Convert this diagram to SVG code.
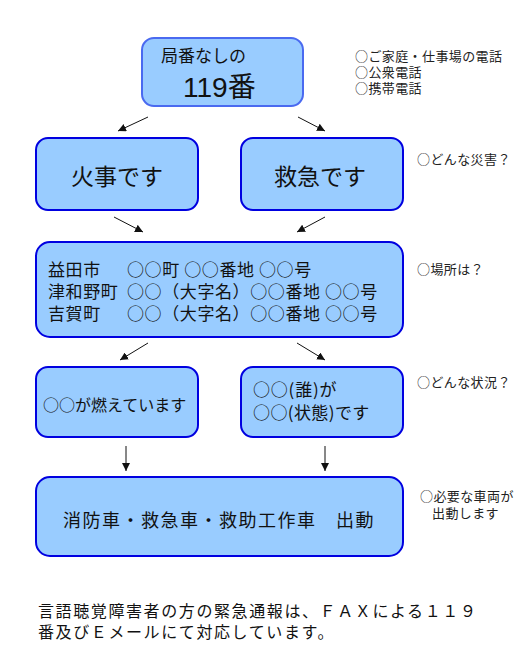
<svg xmlns="http://www.w3.org/2000/svg" width="520" height="658" viewBox="0 0 520 658">
<style>
text{font-family:"Noto Sans CJK JP","Liberation Sans",sans-serif;fill:#111}
.lat{font-family:"Liberation Sans","Noto Sans CJK JP",sans-serif}
.box{fill:#99ccff;stroke:#0000e0;stroke-width:2}
.top{stroke:#4a6af0}
.note{font-size:13px;fill:#222;letter-spacing:0.4px}
.addr{font-size:17px;letter-spacing:0.6px}
.c{stroke:#111;stroke-width:1;fill:none;marker-end:url(#ah)}
</style>
<defs>
<marker id="ah" viewBox="0 0 10 10" refX="10" refY="5" markerWidth="8" markerHeight="8" markerUnits="userSpaceOnUse" orient="auto">
<path d="M0,0L10,5L0,10z" fill="#111"/>
</marker>
</defs>
<rect width="520" height="658" fill="#fff"/>
<g id="n-top">
<rect class="box top" x="142" y="38" width="161" height="68" rx="12"/>
<text x="161" y="62" font-size="17">局番なしの</text>
<text class="lat" x="183" y="97" font-size="28">119番</text>
</g>
<g id="note-top">
<text class="note" x="355" y="61">○ご家庭・仕事場の電話</text>
<text class="note" x="355" y="77">○公衆電話</text>
<text class="note" x="355" y="93">○携帯電話</text>
</g>
<g id="n-fire">
<rect class="box" x="36" y="138" width="162" height="72" rx="12"/>
<text x="117" y="185" font-size="23" text-anchor="middle">火事です</text>
</g>
<g id="n-ambulance">
<rect class="box" x="241" y="138" width="162" height="72" rx="12"/>
<text x="320" y="185" font-size="23" text-anchor="middle">救急です</text>
</g>
<g id="note-disaster"><text class="note" x="417" y="164">○どんな災害？</text></g>
<g id="n-place">
<rect class="box" x="36" y="242" width="367" height="95" rx="14"/>
<text class="addr" x="48" y="276">益田市</text>
<text class="addr" x="48" y="298">津和野町</text>
<text class="addr" x="48" y="320">吉賀町</text>
<text class="addr" x="127" y="276">○○町 ○○番地 ○○号</text>
<text class="addr" x="127" y="298">○○（大字名）○○番地 ○○号</text>
<text class="addr" x="127" y="320">○○（大字名）○○番地 ○○号</text>
</g>
<g id="note-place"><text class="note" x="417" y="274">○場所は？</text></g>
<g id="n-burning">
<rect class="box" x="36" y="367" width="162" height="70" rx="12"/>
<text x="43" y="411" font-size="16">○○が燃えています</text>
</g>
<g id="n-person">
<rect class="box" x="241" y="367" width="162" height="70" rx="12"/>
<text x="253" y="396" font-size="17" letter-spacing="0.8">○○(誰)が</text>
<text x="253" y="419" font-size="17" letter-spacing="0.4">○○(状態)です</text>
</g>
<g id="note-situation"><text class="note" x="417" y="387">○どんな状況？</text></g>
<g id="n-dispatch">
<rect class="box" x="36" y="477" width="367" height="79" rx="14"/>
<text x="63" y="527" font-size="18" letter-spacing="1.5">消防車・救急車・救助工作車　出動</text>
</g>
<g id="note-dispatch">
<text class="note" x="420" y="501">○必要な車両が</text>
<text class="note" x="432" y="518">出動します</text>
</g>
<g id="connectors">
<line class="c" x1="148" y1="117" x2="118" y2="131"/>
<line class="c" x1="298" y1="117" x2="325" y2="131"/>
<line class="c" x1="114" y1="217" x2="143" y2="232"/>
<line class="c" x1="325" y1="217" x2="297" y2="232"/>
<line class="c" x1="148" y1="343" x2="120" y2="360"/>
<line class="c" x1="297" y1="343" x2="325" y2="360"/>
<line class="c" x1="126" y1="446" x2="126" y2="471"/>
<line class="c" x1="325" y1="446" x2="325" y2="471"/>
</g>
<g id="footer">
<text x="38" y="617" font-size="16" letter-spacing="1.6">言語聴覚障害者の方の緊急通報は、ＦＡＸによる１１９</text>
<text x="38" y="638" font-size="16" letter-spacing="1.6">番及びＥメールにて対応しています。</text>
</g>
</svg>
